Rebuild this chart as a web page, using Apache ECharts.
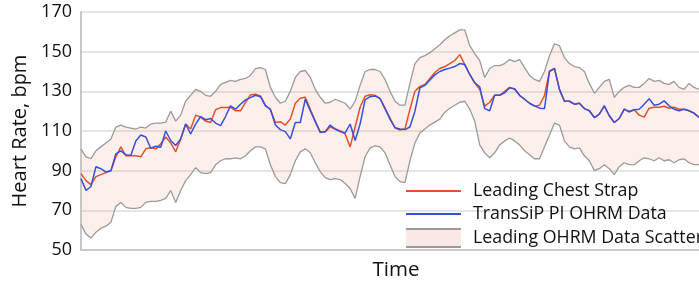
<!DOCTYPE html>
<html>
<head>
<meta charset="utf-8">
<script src="https://cdn.jsdelivr.net/npm/echarts@6/dist/echarts.min.js"></script>
<style>
html,body{margin:0;padding:0;background:#fff;}
#chart{width:699px;height:286px;}
</style>
</head>
<body>
<div id="chart"></div>
<script>
// Heart rate samples (bpm), one value per time step
const chestStrap = [
88.5,85,83,87,88,89,90,97,102,97.5,
97.5,97.5,97,101,101.5,101,103.5,107,104,99.5,
106,113.5,111,118,117,115,114.3,120.7,121.8,121.8,
122,120.2,120.2,124.3,128.2,128.5,127.7,123,120.7,114.3,
114.7,113,116,124,126.5,127,121,115,109.5,109.5,
112,111,110,108.5,102,112,122,127.5,128.3,128,
126.5,121.5,116.5,111.5,110.5,111,121,130,132.5,133.5,
136.5,139.5,141.5,142.5,144,145.5,148.5,143.5,138.5,134.3,
131,122.5,124.5,128,128,130,132,131,128,126,
124,122.5,123,128,140,141.5,131,125,125,123.5,
124,121.3,120.2,116.8,118.5,122.7,117.7,114.3,116.3,121,
119.7,120.7,118,117,121.5,122,122,122.5,121.5,122,
121,121,120.2,119,116.8
];
const transSiP = [
86,80,82,92,91,89.3,90,98.5,100,98,
97.7,105,108,107,101.3,102.3,101.8,110,105.2,102.7,
106,113.5,108.5,113.5,117.3,115.7,116.3,114,112.7,117.3,
122.7,121,123.5,125.7,126.8,128,127.3,122.7,121,113,
110.7,109.7,106,114.3,114.3,126,120.2,114.7,109.3,109.7,
113,111,109.7,109,113.5,105.2,113.5,125.7,127.3,127.7,
126.3,121.3,116,111.7,111,110.7,112,120,131.8,133,
135.7,138.3,140,141,141.7,142.5,144,143.5,138.5,134.3,
132.3,121.3,120.2,128,128,129.3,131.8,131.3,128,126,
124,122.7,121.5,121.3,140.2,141.5,131,125,125,123.5,
124,121.3,120.2,116.8,118.5,122.7,117.7,114.3,116.3,121,
119.7,120.7,121,123.5,126.3,123,123.5,125.2,122.7,121,
120.2,121,120.2,119,116.8
];
const scatterUpper = [
101,97,96,100,102,104,106,112,113,112,
111.5,111,112,111.5,113.5,114,114,114.5,120,115,
118,125,128,131,130,128,127.5,130,133.5,134.5,
135.5,135,136,136.5,138,141.5,142,141,132,127,
124,125,130,137,140,140.5,137,131,127,124,
124.5,126,125,124,121,125,133,140,141,141,
140,136,130,125,123,123,134,144,147,148,
149.5,151.5,153.5,156,158,159.5,161,161,153,149,
145.5,137,141.5,143,143,144,146,145,146,142,
138,136,135,140,148,154,153,147,144,142.5,
142,140,134,129,132,135,136,127,130,132,
133,132,132,134,136.5,135,135.5,134,133.5,135,
132,131,134,132,131
];
const scatterLower = [
63,58,56,59,61,62,64,72,74,71.5,
71,71,71.5,74,74.5,74.5,75,76,80,74,
80,85,88,91.5,89,88.5,89,93,95,96,
96,96.5,96,97.5,100,102,102,101,93,87,
84,83.5,88,95,99.5,101,99,94,89.5,86.5,
85.5,86,85.5,83.5,81,76,87,97,101.5,102.5,
102,99,93,87,84.5,84,95,104,109,111,
113,114.5,116,119.5,121.5,123,124.5,125,121,115,
103,99,96.5,99,103,105,106.5,105,103,100,
98,96,96,102,108,114,113,105,102,101,
101.5,97.5,95,90,91,93,91,88,92,94,
93,93,95,96.5,96,95,96.5,95,95.5,94,
95.5,96,94,93,93
];
const timeSteps = chestStrap.map((_, k) => String(k));
const yTicks = {min: 50, max: 170, interval: 20};
const names = ['Leading Chest Strap', 'TransSiP PI OHRM Data', 'Leading OHRM Data Scatter'];

const bandWidth = scatterUpper.map((u, k) => +(u - scatterLower[k]).toFixed(2));
const FONT = 'Open Sans';
const ORANGE = '#e2522a', BLUE = '#3a4fd9', GREY = '#9a9a9a';
const chart = echarts.init(document.getElementById('chart'), null, {renderer: 'canvas'});
const bandIcon = new echarts.graphic.LinearGradient(0, 0, 0, 1, [
  {offset: 0, color: GREY}, {offset: 0.08, color: GREY},
  {offset: 0.08, color: '#fce8e3'}, {offset: 0.92, color: '#fce8e3'},
  {offset: 0.92, color: GREY}, {offset: 1, color: GREY}
]);
const lineIcon = 'path://M0,0H55V2H0Z';
chart.setOption({
  animation: false,
  grid: {left: 81, top: 12, width: 620, height: 240, show: false},
  xAxis: {
    type: 'category', data: timeSteps, boundaryGap: false,
    name: 'Time', nameLocation: 'middle', nameGap: 10,
    nameTextStyle: {fontFamily: FONT, fontSize: 20.5, color: '#111', verticalAlign: 'top', padding: [0, 0, 0, 12]},
    axisLine: {show: true, lineStyle: {color: '#c8c8c8', width: 2}},
    axisTick: {show: false}, axisLabel: {show: false}, splitLine: {show: false}
  },
  yAxis: {
    type: 'value', min: yTicks.min, max: yTicks.max, interval: yTicks.interval,
    name: 'Heart Rate, bpm', nameLocation: 'middle', nameGap: 44,
    nameTextStyle: {fontFamily: FONT, fontSize: 20, color: '#111'},
    axisLine: {show: true, lineStyle: {color: '#c8c8c8', width: 2}},
    axisTick: {show: false},
    axisLabel: {fontFamily: FONT, fontSize: 18, color: '#111', margin: 9},
    splitLine: {show: true, lineStyle: {color: '#dcdcdc', width: 1.5}}
  },
  legend: {
    orient: 'vertical', left: 401, top: 177,
    itemWidth: 55, itemHeight: 20, itemGap: 5,
    textStyle: {fontFamily: FONT, fontSize: 17.8, color: '#111', padding: [0, 0, 0, 7]},
    data: [
      {name: names[0], icon: lineIcon, itemStyle: {color: ORANGE}},
      {name: names[1], icon: lineIcon, itemStyle: {color: BLUE}},
      {name: names[2], icon: 'rect', itemStyle: {color: bandIcon, borderWidth: 0}}
    ]
  },
  series: [
    {
      name: 'lower', type: 'line', data: scatterLower, stack: 'band',
      symbol: 'none', silent: true,
      lineStyle: {color: GREY, width: 1.3}
    },
    {
      name: names[2], type: 'line', data: bandWidth, stack: 'band',
      symbol: 'none', silent: true,
      lineStyle: {color: GREY, width: 1.3},
      itemStyle: {color: GREY},
      areaStyle: {color: 'rgba(244,170,150,0.25)'}
    },
    {
      name: names[0], type: 'line', data: chestStrap, symbol: 'none',
      lineStyle: {color: ORANGE, width: 1.5}, itemStyle: {color: ORANGE}
    },
    {
      name: names[1], type: 'line', data: transSiP, symbol: 'none',
      lineStyle: {color: BLUE, width: 1.5}, itemStyle: {color: BLUE}
    }
  ]
});
</script>
</body>
</html>
